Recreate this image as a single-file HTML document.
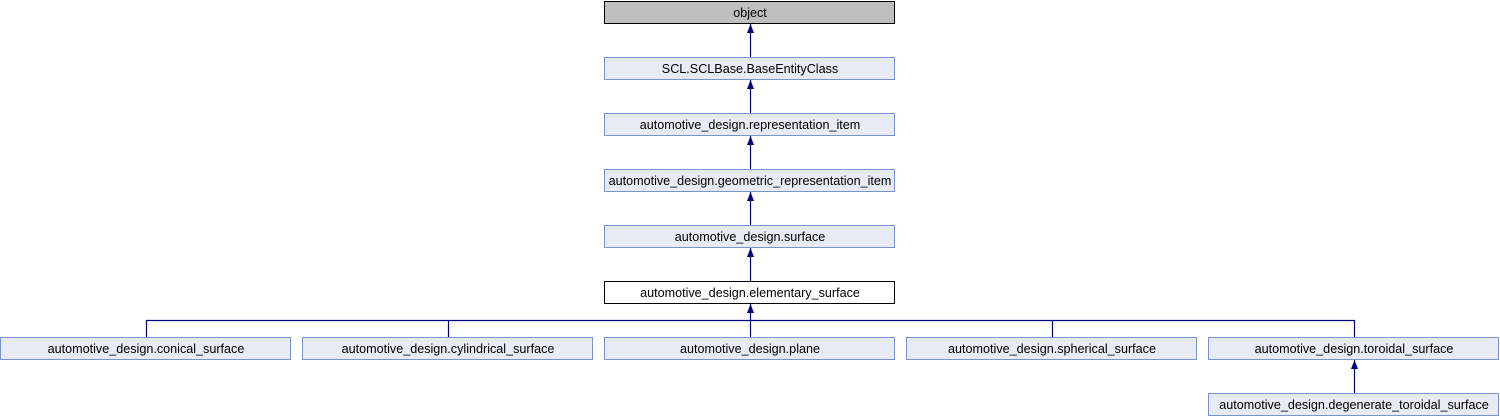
<!DOCTYPE html>
<html><head><meta charset="utf-8"><style>
html,body{margin:0;padding:0;background:#fff;}
svg{display:block}
text{font-family:"Liberation Sans",sans-serif;font-size:12.6px;text-anchor:middle;fill:#000}
</style></head><body>
<svg width="1500" height="416" viewBox="0 0 1500 416" xmlns="http://www.w3.org/2000/svg">
<defs><marker id="a" markerWidth="8" markerHeight="10" refX="4" refY="0" orient="0" markerUnits="userSpaceOnUse"><path d="M0.5,9 L4,0 L7.5,9 Z" fill="#000080"/></marker></defs>
<g stroke="#000080" stroke-width="1.2" fill="none">
<line x1="750.5" y1="57" x2="750.5" y2="24" marker-end="url(#a)"/>
<line x1="750.5" y1="113" x2="750.5" y2="80" marker-end="url(#a)"/>
<line x1="750.5" y1="169" x2="750.5" y2="136" marker-end="url(#a)"/>
<line x1="750.5" y1="225" x2="750.5" y2="192" marker-end="url(#a)"/>
<line x1="750.5" y1="281" x2="750.5" y2="248" marker-end="url(#a)"/>
<line x1="750.5" y1="337" x2="750.5" y2="304" marker-end="url(#a)"/>
<path d="M146.5,337 V320.5 H1354.5 V337 M448.5,337 V320.5 M1052.5,337 V320.5"/>
<line x1="1354.5" y1="393" x2="1354.5" y2="360" marker-end="url(#a)"/>
</g>
<g stroke="#7b93cc" stroke-width="1" fill="#e7ebf4">
<rect x="604.5" y="1.5" width="290" height="22" fill="#bfbfbf" stroke="#000"/>
<rect x="604.5" y="57.5" width="290" height="22"/>
<rect x="604.5" y="113.5" width="290" height="22"/>
<rect x="604.5" y="169.5" width="290" height="22"/>
<rect x="604.5" y="225.5" width="290" height="22"/>
<rect x="604.5" y="281.5" width="290" height="22" fill="#fff" stroke="#000"/>
<rect x="0.5" y="337.5" width="290" height="22"/>
<rect x="302.5" y="337.5" width="290" height="22"/>
<rect x="604.5" y="337.5" width="290" height="22"/>
<rect x="906.5" y="337.5" width="290" height="22"/>
<rect x="1208.5" y="337.5" width="290" height="22"/>
<rect x="1208.5" y="393.5" width="290" height="22"/>
</g>
<text x="750" y="17">object</text>
<text x="750" y="73">SCL.SCLBase.BaseEntityClass</text>
<text x="750" y="129">automotive_design.representation_item</text>
<text x="750" y="185">automotive_design.geometric_representation_item</text>
<text x="750" y="241">automotive_design.surface</text>
<text x="750" y="297">automotive_design.elementary_surface</text>
<text x="146" y="353">automotive_design.conical_surface</text>
<text x="448" y="353">automotive_design.cylindrical_surface</text>
<text x="750" y="353">automotive_design.plane</text>
<text x="1052" y="353">automotive_design.spherical_surface</text>
<text x="1354" y="353">automotive_design.toroidal_surface</text>
<text x="1354" y="409">automotive_design.degenerate_toroidal_surface</text>
</svg>
</body></html>
